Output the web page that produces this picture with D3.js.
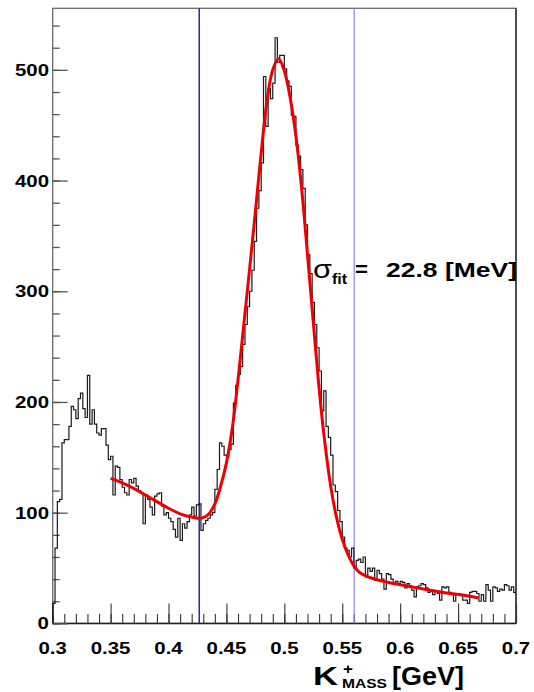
<!DOCTYPE html>
<html><head><meta charset="utf-8">
<script src="https://cdn.jsdelivr.net/npm/d3@7"></script>
<style>html,body{margin:0;padding:0;background:#fff;}svg{display:block;}</style>
</head><body>
<svg id="c" width="534" height="692"></svg>
<script>
// ---- data ----
const binStart = 0.300;
const binWidth = 0.002;
const counts = [
 18,68,110,112,163,166,166,178,196,193,185,203,208,194,186,224,180,193,180,172,
 170,176,176,161,148,151,116,142,141,130,123,118,116,130,127,131,124,120,118,90,
 116,112,105,98,115,117,118,106,98,100,95,92,85,78,95,75,90,86,92,98,
 105,97,107,108,84,90,93,95,98,100,121,139,163,160,152,150,157,162,199,215,
 225,232,252,270,286,300,319,345,375,391,416,494,449,483,474,488,529,507,513,513,
 501,490,485,459,458,432,422,410,393,360,333,316,290,270,249,228,192,210,178,168,
 152,125,119,102,92,78,68,66,60,68,50,57,58,55,60,42,50,47,50,39,
 48,45,40,31,45,44,40,36,38,36,38,37,32,36,34,30,24,33,34,36,
 35,32,28,30,26,29,27,21,33,32,33,28,27,20,26,27,25,21,21,18,
 28,29,29,27,20,26,20,35,30,20,33,32,29,31,30,35,34,30,33,28
];
const fitX = [0.350,0.360,0.370,0.380,0.390,0.400,0.410,0.420,0.428,0.434,0.440,0.445,0.450,0.455,0.460,0.465,0.470,0.475,0.480,0.485,0.490,0.495,0.500,0.505,0.510,0.515,0.520,0.525,0.530,0.535,0.540,0.545,0.550,0.555,0.560,0.565,0.575,0.590,0.605,0.620,0.640,0.655,0.6675];
const fitY = [131,127,122,116,110,104,99,96,95,98,108,124,145,176,220,270,320,372,425,472,500,510,499,475,440,392,333,272,212,163,124,96,76,62,52,46,41,37,34,31,27.5,25.5,23];
const cutLines = [0.4265, 0.5603];
const xTickLabels = ["0.3","0.35","0.4","0.45","0.5","0.55","0.6","0.65","0.7"];
const xTickValues = [0.3,0.35,0.4,0.45,0.5,0.55,0.6,0.65,0.7];
const yTickValues = [0,100,200,300,400,500];

// ---- scales ----
const svg = d3.select("#c");
const L = 52.7, R = 516, T = 8.3, B = 623.4;
const x = d3.scaleLinear().domain([0.3, 0.7]).range([L, R]);
const y = d3.scaleLinear().domain([0, 555.6]).range([B, T]);

function stretch(sel, f) {
  sel.each(function(){ const w = this.getComputedTextLength(); this.setAttribute("textLength", w*f); this.setAttribute("lengthAdjust","spacingAndGlyphs"); });
}
const FONT = "'Liberation Sans', Arial, sans-serif";

// frame
svg.append("rect").attr("x", L).attr("y", T).attr("width", R-L).attr("height", B-T)
  .attr("fill","none").attr("stroke","#6a6a6a").attr("stroke-width",1.3);
svg.append("line").attr("x1",R).attr("x2",R).attr("y1",T).attr("y2",B).attr("stroke","#222").attr("stroke-width",1.3);
svg.append("line").attr("x1",L).attr("x2",R).attr("y1",B).attr("y2",B).attr("stroke","#222").attr("stroke-width",1.5);

// x axis ticks (inside)
const xMinor = d3.range(0, 41).map(i => 0.3 + i*0.01);
const gx = svg.append("g").attr("transform",`translate(0,${B})`);
gx.call(d3.axisBottom(x).tickValues(xMinor).tickSize(-9.5).tickFormat(""));
gx.append("g").call(d3.axisBottom(x).tickValues(xTickValues).tickSize(-20).tickFormat(""));
gx.selectAll(".domain").remove();
gx.selectAll("line").attr("stroke","#333").attr("stroke-width",1.1);

// y axis ticks (inside)
const yMinor = d3.range(0, 28).map(i => i*20);
const gy = svg.append("g").attr("transform",`translate(${L},0)`);
gy.call(d3.axisLeft(y).tickValues(yMinor).tickSize(-7).tickFormat(""));
gy.append("g").call(d3.axisLeft(y).tickValues(yTickValues).tickSize(-15).tickFormat(""));
gy.selectAll(".domain").remove();
gy.selectAll("line").attr("stroke","#555").attr("stroke-width",1.3);

// tick labels
svg.append("g").selectAll("text").data(xTickValues).join("text")
  .attr("x", d => x(d)).attr("y", 654).attr("text-anchor","middle")
  .attr("font-family",FONT).attr("font-weight","bold").attr("font-size",17)
  .text((d,i) => xTickLabels[i]).call(stretch, 1.2);
svg.append("g").selectAll("text").data(yTickValues).join("text")
  .attr("x", 49).attr("y", d => y(d) + 6).attr("text-anchor","end")
  .attr("font-family",FONT).attr("font-weight","bold").attr("font-size",17)
  .text(d => d).call(stretch, 1.2);

// cut lines
svg.append("line").attr("x1",x(cutLines[0])).attr("x2",x(cutLines[0])).attr("y1",T).attr("y2",B)
  .attr("stroke","#1a1a9a").attr("stroke-width",1.4);
svg.append("line").attr("x1",x(cutLines[1])).attr("x2",x(cutLines[1])).attr("y1",T).attr("y2",B)
  .attr("stroke","#7070e0").attr("stroke-width",1);

// histogram
const pts = [[binStart, 0]];
counts.forEach((c,i) => pts.push([binStart + i*binWidth, c]));
pts.push([binStart + counts.length*binWidth, counts[counts.length-1]]);
const hline = d3.line().x(d => x(d[0])).y(d => y(d[1])).curve(d3.curveStepAfter);
svg.append("path").attr("d", hline(pts)).attr("fill","none").attr("stroke","#1a1a1a").attr("stroke-width",1.2);

// fit
const fline = d3.line().x((d,i) => x(fitX[i])).y(d => y(d)).curve(d3.curveCatmullRom);
svg.append("path").attr("d", fline(fitY)).attr("fill","none").attr("stroke","#ee0000").attr("stroke-width",3);

// annotation
function txt(str, xx, yy, size, bold, w) {
  const t = svg.append("text").attr("x",xx).attr("y",yy).attr("font-family",FONT)
    .attr("font-size",size).attr("font-weight", bold ? "bold" : "normal").attr("fill","#000").text(str);
  if (w) t.attr("textLength", w).attr("lengthAdjust","spacingAndGlyphs");
  return t;
}
txt("σ", 313, 278, 25, false, 19);
txt("fit", 332, 284, 15, true, 15);
txt("=", 355, 276, 21, true, 13);
txt("22.8 [MeV]", 386, 277, 21, true, 131);

// axis title
txt("K", 313, 685, 25, true, 25);
txt("+", 343, 674, 14, true, 10);
txt("MASS", 342, 688, 12, true, 45);
txt("[GeV]", 392, 685, 25, true, 72);
</script>
</body></html>
